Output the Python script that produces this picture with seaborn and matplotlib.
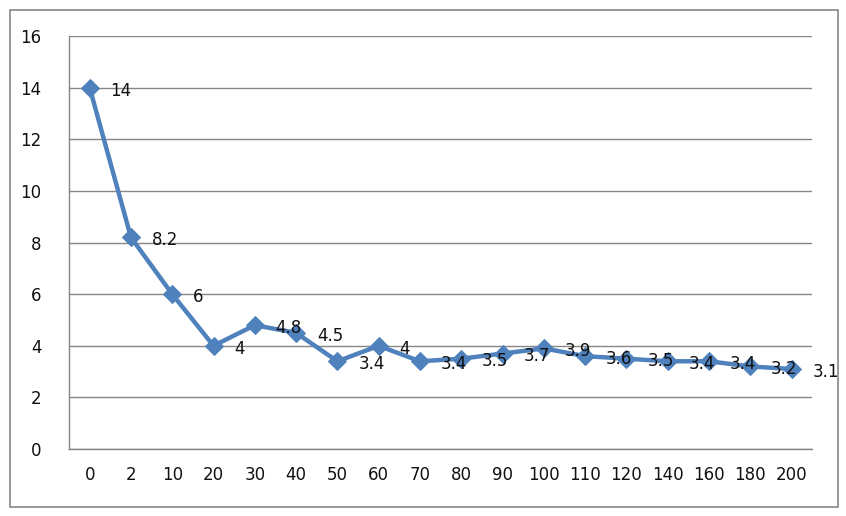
import numpy as np
import matplotlib
matplotlib.use("Agg")
import matplotlib.pyplot as plt
import seaborn as sns
from matplotlib.patches import Rectangle

categories = ["0", "2", "10", "20", "30", "40", "50", "60", "70", "80", "90",
              "100", "110", "120", "140", "160", "180", "200"]
values = [14, 8.2, 6, 4, 4.8, 4.5, 3.4, 4, 3.4, 3.5, 3.7, 3.9, 3.6, 3.5, 3.4, 3.4, 3.2, 3.1]
yticks = [0, 2, 4, 6, 8, 10, 12, 14, 16]

sns.set_theme(style="white")
plt.rcParams['font.family'] = ['DejaVu Sans']

fig = plt.figure(figsize=(8.46, 5.16), dpi=100)
ax = fig.add_axes([0.0816, 0.1298, 0.8784, 0.8002])

x = np.arange(len(categories))
sns.lineplot(x=x, y=values, ax=ax, color="#4F81BD", linewidth=3.2,
             marker="D", markersize=9, markeredgecolor="#4F81BD", sort=False)

for xi, v in zip(x, values):
    ax.annotate(f"{v:g}", (xi, v), xytext=(15, -2), textcoords="offset points",
                va="center", ha="left", fontsize=12, color="#111111")

ax.set_xlim(-0.5, len(categories) - 0.5)
ax.set_ylim(0, 16)
ax.set_yticks(yticks)
ax.set_yticklabels([str(t) for t in yticks], fontsize=12, color="#111111")
ax.set_xticks(x)
ax.set_xticklabels(categories, fontsize=12, color="#111111")
ax.set_xticks(np.arange(-0.5, len(categories)), minor=True)
ax.tick_params(axis="x", which="major", length=0, pad=12)
ax.tick_params(axis="x", which="minor", length=6, color="#868686", width=1, direction="out")
ax.tick_params(axis="y", which="major", length=6, color="#868686", width=1, direction="out", pad=14)

ax.yaxis.grid(True, color="#868686", linewidth=1)
ax.xaxis.grid(False)
for s in ["top", "right"]:
    ax.spines[s].set_visible(False)
for s in ["left", "bottom"]:
    ax.spines[s].set_color("#868686")
    ax.spines[s].set_linewidth(1)
ax.set_axisbelow(True)

fig.patches.append(Rectangle((10 / 846, 1 - 507 / 516), 828 / 846, 497 / 516,
                             transform=fig.transFigure, fill=False,
                             edgecolor="#868686", linewidth=1.2))

fig.savefig("out.png", dpi=100)
